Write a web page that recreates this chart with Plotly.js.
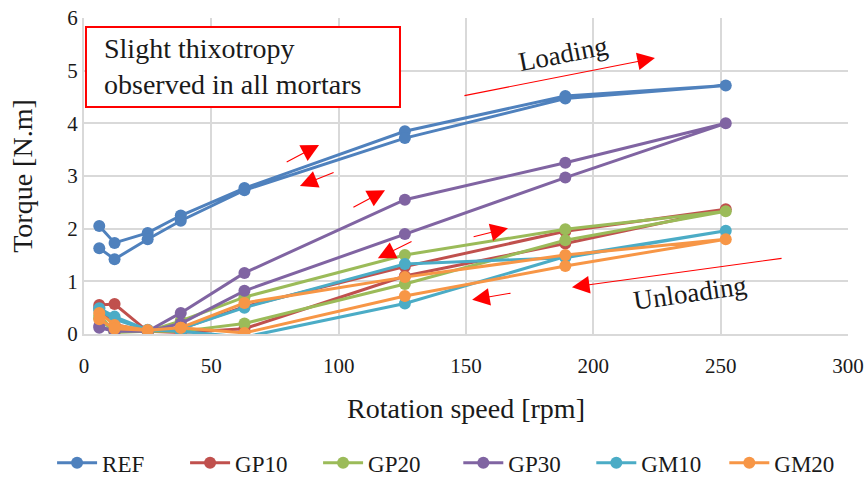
<!DOCTYPE html>
<html><head><meta charset="utf-8">
<script src="https://cdn.plot.ly/plotly-3.0.1.min.js"></script>
<style>html,body{margin:0;padding:0;background:#fff}#chart{width:868px;height:477px}</style>
</head><body><div id="chart"></div>
<script>
// Rotation speeds: loading (up) then unloading (down)
const speeds = [6, 12, 25, 38, 63, 126, 189, 252, 189, 126, 63, 38, 25, 12, 6];
const seriesNames = ["REF", "GP10", "GP20", "GP30", "GM10", "GM20"];
const REF  = [2.05, 1.73, 1.92, 2.25, 2.77, 3.85, 4.52, 4.72, 4.47, 3.72, 2.73, 2.15, 1.80, 1.42, 1.63];
const GP10 = [0.55, 0.57, 0.05, 0.03, 0.10, 1.10, 1.72, 2.37, 1.95, 1.28, 0.52, 0.10, 0.05, 0.18, 0.50];
const GP20 = [0.30, 0.03, 0.05, 0.05, 0.20, 0.95, 1.78, 2.33, 1.99, 1.50, 0.70, 0.25, 0.05, 0.05, 0.35];
const GP30 = [0.15, 0.05, 0.05, 0.20, 0.82, 1.90, 2.97, 4.00, 3.25, 2.55, 1.16, 0.40, 0.05, 0.05, 0.12];
const GM10 = [0.49, 0.33, 0.08, 0.05, -0.06, 0.58, 1.47, 1.96, 1.45, 1.33, 0.50, 0.10, 0.07, 0.28, 0.45];
const GM20 = [0.40, 0.17, 0.07, 0.12, 0.02, 0.72, 1.29, 1.80, 1.50, 1.08, 0.59, 0.12, 0.07, 0.10, 0.28];
const seriesValues = [REF, GP10, GP20, GP30, GM10, GM20];
const colors = ["#4F81BD", "#C0504D", "#9BBB59", "#8064A2", "#4BACC6", "#F79646"];
const xTicks = [0, 50, 100, 150, 200, 250, 300];
const yTicks = [0, 1, 2, 3, 4, 5, 6];

const FONT = "'Liberation Serif', 'DejaVu Serif', serif";
const TXT = "#1a1a1a";
const traces = seriesNames.map((n, i) => ({
  x: speeds, y: seriesValues[i], name: n, type: "scatter", mode: "lines+markers",
  legend: i < 3 ? "legend" : "legend2",
  line: {color: colors[i], width: 3}, marker: {color: colors[i], size: 12}
}));

// arrows: [tailX, tailY, headX, headY]
const arrows = [
  [79.0, 3.25, 92.3, 3.59],
  [98.6, 3.08, 84.8, 2.81],
  [105.2, 2.39, 118.2, 2.73],
  [129.2, 1.77, 115.4, 1.44],
  [152.4, 1.84, 166.5, 2.01],
  [168.1, 0.78, 152.4, 0.65],
  [148.8, 4.52, 224.2, 5.24],
  [274.5, 1.44, 191.6, 0.89]
];
const annotations = arrows.map(a => ({
  x: a[2], y: a[3], ax: a[0], ay: a[1], xref: "x", yref: "y", axref: "x", ayref: "y",
  text: "", showarrow: true, arrowhead: 2, arrowsize: 3.2, arrowwidth: 1.1, arrowcolor: "#FF0000"
}));
annotations.push({
  xref: "paper", yref: "paper", x: 0.024, y: 0.845, xanchor: "left", yanchor: "middle",
  text: "Slight thixotropy<br>observed in all mortars", showarrow: false, align: "left",
  font: {family: FONT, size: 28, color: TXT}
});
annotations.push({
  xref: "x", yref: "y", x: 188, y: 5.32, text: "Loading", showarrow: false, textangle: -11,
  font: {family: FONT, size: 27, color: TXT}
});
annotations.push({
  xref: "x", yref: "y", x: 238, y: 0.78, text: "Unloading", showarrow: false, textangle: -8,
  font: {family: FONT, size: 27, color: TXT}
});

const legendBase = {orientation: "h", xref: "container", yref: "container", xanchor: "left",
  y: 0.03, yanchor: "middle", entrywidth: 78, entrywidthmode: "pixels",
  font: {size: 23, family: FONT, color: TXT}, itemwidth: 40, tracegroupgap: 0};

const layout = {
  width: 868, height: 477,
  margin: {l: 84, r: 20, t: 18, b: 143},
  paper_bgcolor: "#fff", plot_bgcolor: "#fff",
  font: {family: FONT, color: TXT},
  shapes: [{type: "rect", xref: "paper", yref: "paper", x0: 0.0026, x1: 0.4136, y0: 0.718, y1: 0.9715,
    line: {color: "#FF0000", width: 2}, fillcolor: "#fff", layer: "above"}],
  xaxis: {range: [0, 300], tickvals: xTicks, ticktext: xTicks.map(String),
    showgrid: true, gridcolor: "#D9D9D9", gridwidth: 2, zeroline: false,
    showline: true, linecolor: "#D9D9D9", linewidth: 2, ticks: "", ticklabelstandoff: 12,
    tickfont: {size: 21, family: FONT, color: TXT}, automargin: false,
    title: {text: "Rotation speed [rpm]", font: {size: 28, family: FONT, color: TXT}, standoff: 21}},
  yaxis: {range: [0, 6], tickvals: yTicks, ticktext: yTicks.map(String),
    showgrid: true, gridcolor: "#D9D9D9", gridwidth: 2, zeroline: false,
    showline: true, linecolor: "#D9D9D9", linewidth: 2, ticks: "",
    tickfont: {size: 21, family: FONT, color: TXT}, automargin: false,
    title: {text: "Torque [N.m]", font: {size: 28, family: FONT, color: TXT}, standoff: 26}},
  legend: Object.assign({}, legendBase, {x: 0.06}),
  legend2: Object.assign({}, legendBase, {x: 0.528}),
  annotations: annotations,
  showlegend: true
};
Plotly.newPlot("chart", traces, layout, {displayModeBar: false, staticPlot: true});
</script></body></html>
